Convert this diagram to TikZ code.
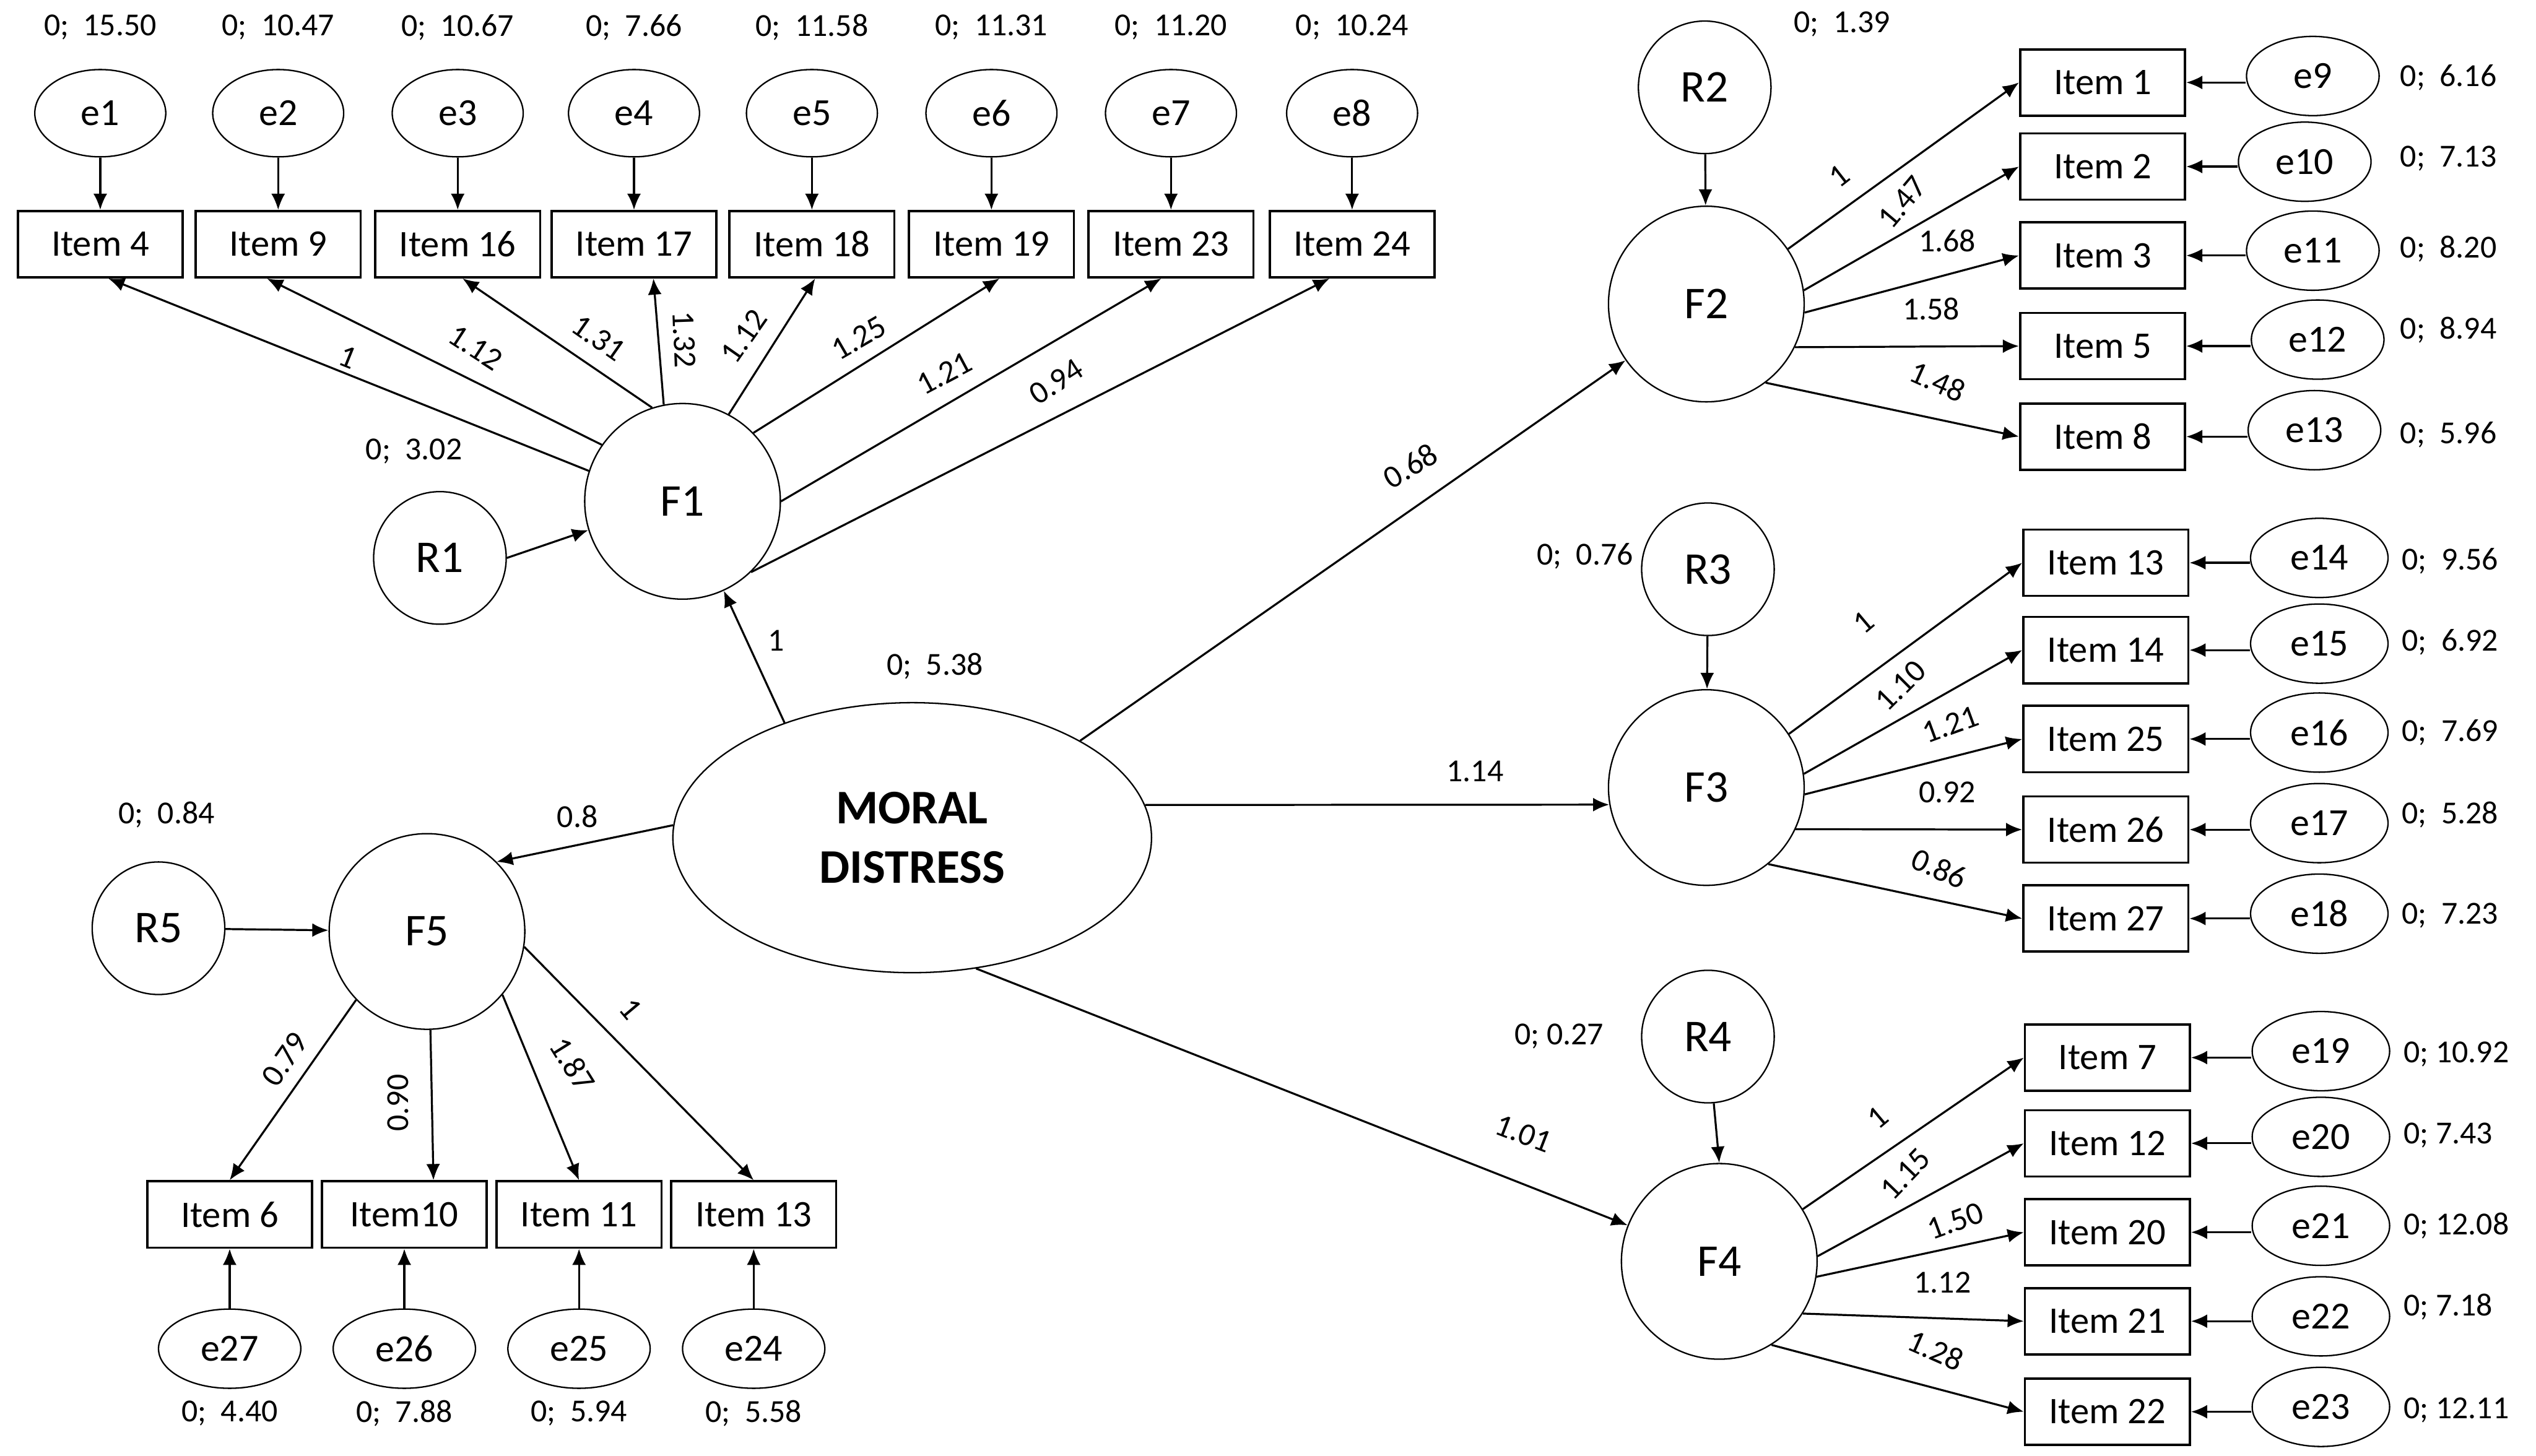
\documentclass[tikz,border=0pt]{standalone}
\usepackage{fontspec}
\setmainfont{Carlito}
\usepackage{tikz}
\usetikzlibrary{shapes.geometric, arrows.meta, calc}
\newcommand{\vl}[1]{0;~~#1}
\newcommand{\vs}[1]{0;~#1}
\tikzset{
    item/.style={draw, line width=0.8pt, minimum width=2.04cm, minimum height=0.82cm, inner sep=0pt, font=\fontsize{13.2}{15}\selectfont},
    err/.style={draw, ellipse, line width=0.5pt, minimum width=1.7cm, minimum height=0.98cm, inner sep=0pt, font=\fontsize{13.5}{16}\selectfont},
    fac/.style={draw, circle, line width=0.5pt, minimum size=2.42cm, inner sep=0pt, font=\fontsize{16}{19}\selectfont},
    res/.style={draw, circle, line width=0.5pt, minimum size=1.64cm, inner sep=0pt, font=\fontsize{16}{19}\selectfont},
    lbl/.style={inner sep=1pt, font=\fontsize{11.3}{13}\selectfont},
    link/.style={line width=0.7pt, -{Latex[length=2mm, width=1.7mm]}},
}

\begin{document}
\begin{tikzpicture}[x=0.02cm, y=-0.02cm]
    \useasboundingbox (0,0) rectangle (1568,900);

    \node[draw, ellipse, line width=0.5pt, minimum width=5.92cm, minimum height=3.34cm, inner sep=0pt, align=center, font=\bfseries\fontsize{17}{21}\selectfont] (MD) at (564,518) {MORAL\\DISTRESS};
    \node[lbl] (vMD) at (578,412) {\vl{5.38}};

    \node[fac] (F1) at (422,310) {F1};
    \node[fac] (F2) at (1055,188) {F2};
    \node[fac] (F3) at (1055,487) {F3};
    \node[fac] (F4) at (1063,780) {F4};
    \node[fac] (F5) at (264,576) {F5};

    \node[res] (R1) at (272,345) {R1};
    \node[res] (R2) at (1054,54) {R2};
    \node[res] (R3) at (1056,352) {R3};
    \node[res] (R4) at (1056,641) {R4};
    \node[res] (R5) at (98,574) {R5};
    \node[lbl] (vR1) at (256,279) {\vl{3.02}};
    \node[lbl] (vR2) at (1139,15) {\vl{1.39}};
    \node[lbl] (vR3) at (980,344) {\vl{0.76}};
    \node[lbl] (vR4) at (964,641) {\vs{0.27}};
    \node[lbl] (vR5) at (103,504) {\vl{0.84}};

    \draw[link] (R1.east) -- (F1.197);
    \draw[link] (R2) -- (F2);
    \draw[link] (R3) -- (F3);
    \draw[link] (R4.-85) -- (F4.north);
    \draw[link] (R5) -- (F5);

    \draw[link] (MD.138) -- (F1);
    \draw[link] (MD.30) -- (F2);
    \draw[link] (MD.8) -- (F3.190);
    \draw[link] (MD.-64) -- (F4);
    \draw[link] (MD.177) -- (F5.45);
    \node[lbl] (wF1) at (480,396) {1};
    \node[lbl, rotate=31] (wF2) at (872,288) {0.68};
    \node[lbl] (wF3) at (912,477) {1.14};
    \node[lbl, rotate=-21] (wF4) at (942,701) {1.01};
    \node[lbl] (wF5) at (357,505) {0.8};

    \foreach \n/\x/\k/\v in {1/62/4/15.50, 2/172/9/10.47, 3/283/16/10.67, 4/392/17/7.66,
                             5/502/18/11.58, 6/613/19/11.31, 7/724/23/11.20, 8/836/24/10.24}
    {
        \node[item] (it\n) at (\x,151) {Item \k};
        \node[err, minimum width=1.62cm, minimum height=1.08cm] (e\n) at (\x,70) {e\n};
        \node[lbl] (v\n) at (\x,17) {\vl{\v}};
        \draw[link] (e\n) -- (it\n);
    }
    \foreach \n/\a/\dx/\w/\lx/\ly/\r in {1/162/5/1/215/221/-22, 2/145/-7/1.12/294/215/-33,
                                         3/108/3/1.31/370/209/-35, 4/101/12/1.32/423/210/-88,
                                         5/62/2/1.12/460/208/55, 6/44/5/1.25/531/209/30,
                                         7/0/-6/1.21/584/231/28, 8/-46/-14/0.94/653/236/33}
    {
        \draw[link] (F1.\a) -- ($(it\n.south)+(\dx,0)$);
        \node[lbl, rotate=\r] (w\n) at (\lx,\ly) {\w};
    }

    \foreach \n/\k/\y/\ex/\ey/\vy/\v/\a/\w/\lx/\ly/\r in {
        9/1/51/1430/47/48/6.16/34/1/1137/109/38,
        10/2/103/1425/100/98/7.13/8/1.47/1176/125/50,
        11/3/158/1430/155/154/8.20/-5/1.68/1204/149/0,
        12/5/214/1433/210/204/8.94/-26/1.58/1194/191/0,
        13/8/270/1431/266/269/5.96/-53/1.48/1198/236/-24}
    {
        \node[item] (it\n) at (1300,\y) {Item \k};
        \node[err, minimum width=1.64cm] (e\n) at (\ex,\ey) {e\n};
        \node[lbl, anchor=west] (v\n) at (1482,\vy) {\vl{\v}};
        \draw[link] (e\n.west |- it\n) -- (it\n.east);
        \draw[link] (F2.\a) -- (it\n.west);
        \node[lbl, rotate=\r] (w\n) at (\lx,\ly) {\w};
    }

    \foreach \n/\k/\y/\ey/\vy/\v/\a/\w/\lx/\ly/\r in {
        14/13/348/345/347/9.56/33/1/1152/385/40,
        15/14/402/398/397/6.92/8/1.10/1175/424/45,
        16/25/457/453/453/7.69/-4/1.21/1206/448/20,
        17/26/513/509/504/5.28/-25/0.92/1204/490/0,
        18/27/568/565/566/7.23/-51/0.86/1199/537/-24}
    {
        \node[item] (it\n) at (1302,\y) {Item \k};
        \node[err] (e\n) at (1434,\ey) {e\n};
        \node[lbl, anchor=west] (v\n) at (1483,\vy) {\vl{\v}};
        \draw[link] (e\n.west |- it\n) -- (it\n.east);
        \draw[link] (F3.\a) -- (it\n.west);
        \node[lbl, rotate=\r] (w\n) at (\lx,\ly) {\w};
    }

    \foreach \n/\k/\y/\ey/\vy/\v/\a/\w/\lx/\ly/\r in {
        19/7/654/650/652/10.92/32/1/1161/691/40,
        20/12/707/703/702/7.43/3/1.15/1178/726/46,
        21/20/762/758/758/12.08/-9/1.50/1209/755/20,
        22/21/817/814/808/7.18/-32/1.12/1201/793/0,
        23/22/873/870/872/12.11/-58/1.28/1197/835/-24}
    {
        \node[item] (it\n) at (1303,\y) {Item \k};
        \node[err] (e\n) at (1435,\ey) {e\n};
        \node[lbl, anchor=west] (v\n) at (1484,\vy) {\vs{\v}};
        \draw[link] (e\n.west |- it\n) -- (it\n.east);
        \draw[link] (F4.\a) -- (it\n.west);
        \node[lbl, rotate=\r] (w\n) at (\lx,\ly) {\w};
    }

    \foreach \n/\x/\k/\v/\a/\dx/\w/\lx/\ly/\r in {
        27/142/Item 6/4.40/-136/0/0.79/176/655/55,
        26/250/Item10/7.88/-88/18/0.90/246/682/90,
        25/358/Item 11/5.94/-40/0/1.87/354/658/-58,
        24/466/Item 13/5.58/-9/0/1/390/624/-50}
    {
        \node[item] (it\n) at (\x,751) {\k};
        \node[err, minimum width=1.76cm] (e\n) at (\x,834) {e\n};
        \node[lbl] (v\n) at (\x,874) {\vl{\v}};
        \draw[link] (e\n) -- (it\n);
        \draw[link] (F5.\a) -- ($(it\n.north)+(\dx,0)$);
        \node[lbl, rotate=\r] (w\n) at (\lx,\ly) {\w};
    }
\end{tikzpicture}
\end{document}
